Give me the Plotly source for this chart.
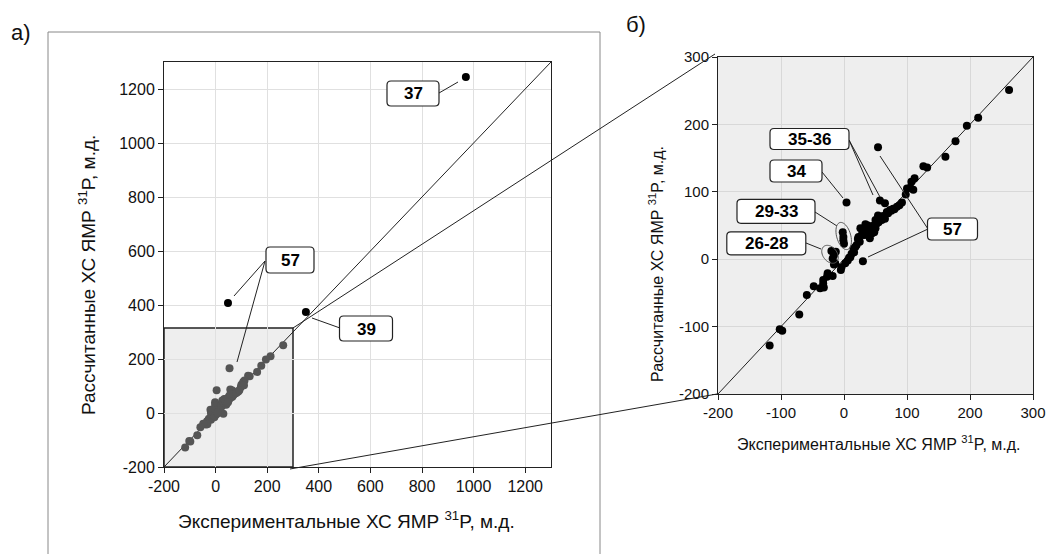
import plotly.graph_objects as go
import math

# ---------------- data ----------------
# main set (shown in both panels): experimental vs calculated shifts, ppm
exp_main = [262, 213, 195, 177, 161, 126, 132, 112, 107, 100, 105, 98, 110,
            54, 57, 65, 84, 78, 73, 70, 54, 65, 60, 52, 47, 41, 36, 31, 33, 28,
            23, 41, 45, 38, 50, 25, 20, 15, 12, 10, 2, -5, 30, 4,
            -2, -1, 0, -1,
            -20, -16, -18, -14, -13, -16,
            -27, -33, -38, -18, -26, -33, -32, -48, -59, -71, -102, -98, -118,
            -4, 6, 18, 22, 30, 35, 43, 55, 62, 75, 88,
            26, 34, 44, 50, 58, 68, 80, 92, 16, 8, 39, 48]
calc_main = [251, 210, 198, 175, 152, 138, 136, 120, 115, 105, 106, 96, 103,
             166, 87, 83, 78, 75, 73, 68, 65, 60, 58, 53, 50, 48, 45, 43, 36, 36,
             33, 31, 40, 50, 58, 26, 21, 16, 8, 3, -6, -16, -3, 84,
             40, 33, 23, 28,
             12, 6, 1, -6, 11, -8,
             -26, -36, -43, -25, -21, -31, -42, -40, -53, -82, -104, -106, -128,
             -12, -2, 18, 30, 40, 50, 44, 55, 64, 72, 80,
             46, 52, 38, 46, 62, 70, 74, 84, 10, 2, 44, 40]

# outliers shown only in the full-range panel
exp_out = [970, 48, 350]
calc_out = [1244, 407, 374]

diag_full = [-200, 1300]
diag_zoom = [-200, 300]
ticks_full = [-200, 0, 200, 400, 600, 800, 1000, 1200]
ticks_zoom = [-200, -100, 0, 100, 200, 300]
ticktext_full = [str(v) for v in ticks_full]
ticktext_zoom = [str(v) for v in ticks_zoom]

x_title = "Экспериментальные ХС ЯМР <sup>31</sup>P, м.д."
y_title = "Рассчитанные ХС ЯМР <sup>31</sup>P, м.д."

# ---------------- layout helpers ----------------
W, H = 1049, 554
FONT = "Arial, Liberation Sans, sans-serif"


def PX(x):
    return x / W


def PY(y):
    return 1 - y / H


fig = go.Figure()

# full-range panel
fig.add_trace(go.Scatter(x=diag_full, y=diag_full, mode="lines",
                         line=dict(color="#222", width=1), xaxis="x", yaxis="y",
                         showlegend=False, hoverinfo="skip"))
fig.add_trace(go.Scatter(x=exp_main, y=calc_main, mode="markers",
                         marker=dict(color="#555555", size=8, line=dict(width=0)),
                         xaxis="x", yaxis="y", showlegend=False))
fig.add_trace(go.Scatter(x=exp_out, y=calc_out, mode="markers",
                         marker=dict(color="black", size=8, line=dict(width=0)),
                         xaxis="x", yaxis="y", showlegend=False))
# zoom panel
fig.add_trace(go.Scatter(x=diag_zoom, y=diag_zoom, mode="lines",
                         line=dict(color="#222", width=1), xaxis="x2", yaxis="y2",
                         showlegend=False, hoverinfo="skip"))
fig.add_trace(go.Scatter(x=exp_main, y=calc_main, mode="markers",
                         marker=dict(color="black", size=8, line=dict(width=0)),
                         xaxis="x2", yaxis="y2", showlegend=False, cliponaxis=True))

axis_common = dict(showline=True, linecolor="#222", linewidth=1, mirror=True,
                   ticks="outside", ticklen=5, tickcolor="#222", zeroline=False,
                   automargin=False, showgrid=True)

shapes = []
annotations = []

# gray inset in the full panel
shapes.append(dict(type="rect", xref="x", yref="y", x0=-200, x1=300, y0=-200, y1=315,
                   fillcolor="#eeeeee", line=dict(color="#222", width=1.5), layer="below"))
# gray background of zoom panel
shapes.append(dict(type="rect", xref="x2", yref="y2", x0=-200, x1=300, y0=-200, y1=300,
                   fillcolor="#eeeeee", line=dict(width=0), layer="below"))
# outer frame of panel a
shapes.append(dict(type="rect", xref="paper", yref="paper", x0=PX(48), x1=PX(600),
                   y0=PY(570), y1=PY(32), line=dict(color="#888", width=1)))
# connector lines between panels
for (a, b) in [((293, 328), (715, 54)), ((290, 469), (717, 394))]:
    shapes.append(dict(type="line", xref="paper", yref="paper",
                       x0=PX(a[0]), y0=PY(a[1]), x1=PX(b[0]), y1=PY(b[1]),
                       line=dict(color="#222", width=1)))

# leader lines
leaders = [((439, 93), (458, 82)),
           ((265, 261), (234, 296)), ((265, 261), (237, 362)),
           ((340, 328), (312, 318)),
           ((849, 140), (873, 195)), ((849, 140), (880, 197)),
           ((822, 172), (843, 198)),
           ((815, 212), (837, 226)),
           ((806, 243), (821, 249)),
           ((928, 229), (880, 156)), ((928, 229), (868, 257))]
for (a, b) in leaders:
    shapes.append(dict(type="line", xref="paper", yref="paper",
                       x0=PX(a[0]), y0=PY(a[1]), x1=PX(b[0]), y1=PY(b[1]),
                       line=dict(color="#222", width=1)))


def ellipse_path(cx, cy, a, b, ang_deg, n=48):
    t = math.radians(ang_deg)
    pts = []
    for i in range(n):
        th = 2 * math.pi * i / n
        ex, ey = b * math.cos(th), a * math.sin(th)
        x = cx + ex * math.cos(t) + ey * math.sin(t)
        y = cy - ex * math.sin(t) + ey * math.cos(t)
        pts.append((PX(x), PY(y)))
    return "M " + " L ".join(f"{x:.5f},{y:.5f}" for x, y in pts) + " Z"


shapes.append(dict(type="path", xref="paper", yref="paper",
                   path=ellipse_path(843.7, 236, 14, 7, 16),
                   line=dict(color="#555", width=1)))
shapes.append(dict(type="path", xref="paper", yref="paper",
                   path=ellipse_path(830, 254.3, 10, 7, 38),
                   line=dict(color="#555", width=1)))


def rounded_box(cx, cy, w, h, r=4):
    x0, x1, y0, y1 = cx - w / 2, cx + w / 2, cy - h / 2, cy + h / 2
    P = lambda x, y: f"{PX(x):.5f},{PY(y):.5f}"
    return (f"M {P(x0 + r, y0)} L {P(x1 - r, y0)} Q {P(x1, y0)} {P(x1, y0 + r)} "
            f"L {P(x1, y1 - r)} Q {P(x1, y1)} {P(x1 - r, y1)} "
            f"L {P(x0 + r, y1)} Q {P(x0, y1)} {P(x0, y1 - r)} "
            f"L {P(x0, y0 + r)} Q {P(x0, y0)} {P(x0 + r, y0)} Z")


boxes = [("37", 413, 93.5, 52, 25), ("57", 290, 260, 48, 26), ("39", 366, 328.5, 53, 25),
         ("35-36", 809.5, 139, 79, 21), ("34", 796, 171, 52, 22),
         ("29-33", 776, 211.3, 78, 24), ("26-28", 766.3, 243.3, 79, 23),
         ("57", 952.5, 229, 50, 22)]
for (txt, cx, cy, w, h) in boxes:
    shapes.append(dict(type="path", xref="paper", yref="paper", path=rounded_box(cx, cy, w, h),
                       fillcolor="white", line=dict(color="#222", width=1.2)))
    annotations.append(dict(x=PX(cx), y=PY(cy + 0.5), xref="paper", yref="paper", text=f"<b>{txt}</b>",
                            showarrow=False, xanchor="center", yanchor="middle",
                            font=dict(family=FONT, size=17, color="black")))

# axis titles and panel letters
annotations += [
    dict(x=PX(346), y=PY(520), xref="paper", yref="paper", text=x_title, showarrow=False,
         xanchor="center", yanchor="middle", font=dict(family=FONT, size=19, color="#111")),
    dict(x=PX(87), y=PY(275), xref="paper", yref="paper", text=y_title, showarrow=False,
         textangle=-90, xanchor="center", yanchor="middle", font=dict(family=FONT, size=19, color="#111")),
    dict(x=PX(879), y=PY(443), xref="paper", yref="paper", text=x_title, showarrow=False,
         xanchor="center", yanchor="middle", font=dict(family=FONT, size=16, color="#111")),
    dict(x=PX(656), y=PY(264), xref="paper", yref="paper", text=y_title, showarrow=False,
         textangle=-90, xanchor="center", yanchor="middle", font=dict(family=FONT, size=16, color="#111")),
    dict(x=PX(21), y=PY(32), xref="paper", yref="paper", text="а)", showarrow=False,
         xanchor="center", yanchor="middle", font=dict(family=FONT, size=22, color="#111")),
    dict(x=PX(636), y=PY(25), xref="paper", yref="paper", text="б)", showarrow=False,
         xanchor="center", yanchor="middle", font=dict(family=FONT, size=22, color="#111")),
]

fig.update_layout(
    width=W, height=H, autosize=False,
    margin=dict(l=0, r=0, t=0, b=0),
    paper_bgcolor="white", plot_bgcolor="white",
    font=dict(family=FONT, color="#111"),
    xaxis=dict(domain=[PX(164), PX(551)], range=[-200, 1300], tickvals=ticks_full,
               ticktext=ticktext_full,
               gridcolor="#e0e0e0", tickfont=dict(size=16), anchor="y", **axis_common),
    yaxis=dict(domain=[PY(467), PY(62)], range=[-200, 1300], tickvals=ticks_full,
               ticktext=ticktext_full,
               gridcolor="#e0e0e0", tickfont=dict(size=16), anchor="x", **axis_common),
    xaxis2=dict(domain=[PX(718), PX(1033)], range=[-200, 300], tickvals=ticks_zoom,
                ticktext=ticktext_zoom,
                gridcolor="#d8d8d8", tickfont=dict(size=15), anchor="y2", **axis_common),
    yaxis2=dict(domain=[PY(394), PY(57)], range=[-200, 300], tickvals=ticks_zoom,
                ticktext=ticktext_zoom,
                gridcolor="#d8d8d8", tickfont=dict(size=15), anchor="x2", **axis_common),
    shapes=shapes, annotations=annotations,
)

fig.write_html("out.html", config={"displayModeBar": False},
               post_script="document.body.style.margin='0';document.body.style.padding='0';"
                           "document.documentElement.style.overflow='hidden';")
